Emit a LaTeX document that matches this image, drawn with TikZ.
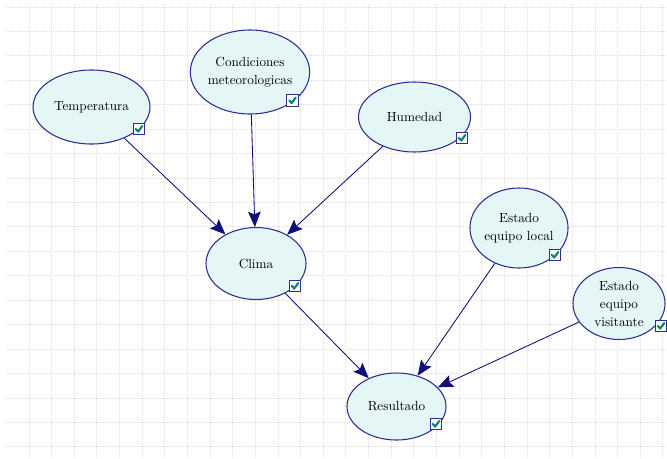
\documentclass[tikz,border=0pt]{standalone}
\usetikzlibrary{shapes.geometric,arrows.meta}
\definecolor{nodeborder}{RGB}{45,45,150}
\definecolor{nodefill}{RGB}{228,246,246}
\definecolor{edgecol}{RGB}{15,15,125}
\definecolor{gridcol}{RGB}{222,222,222}
\definecolor{checkcol}{RGB}{0,128,128}
\tikzset{
  bnnode/.style={ellipse, draw=nodeborder, fill=nodefill, line width=0.8pt, inner sep=0pt,
    align=center, font=\fontsize{9.9}{13.5}\selectfont},
  bnedge/.style={draw=edgecol, line width=0.65pt, -{Stealth[length=11.5pt,width=9.5pt,inset=2pt]}},
  cbox/.style={rectangle, draw=nodeborder, fill=white, line width=0.8pt, minimum size=8.5pt, inner sep=0pt,
    path picture={\draw[checkcol, line width=1.6pt, line cap=round, line join=round]
      ([xshift=-2.3pt,yshift=0pt]path picture bounding box.center) --
      ([xshift=-0.6pt,yshift=-1.9pt]path picture bounding box.center) --
      ([xshift=2.4pt,yshift=2.2pt]path picture bounding box.center);}},
  gridline/.style={draw=gridcol, line width=0.75pt, dash pattern=on 0.75pt off 0.75pt}
}
\begin{document}
\begin{tikzpicture}[x=0.75pt,y=-0.75pt]
\useasboundingbox (0,0) rectangle (667,458);
\fill[white] (0,0) rectangle (667,458);
% grid
\foreach \k in {0,...,18} {
  \draw[gridline] (7,{7+24.44*\k}) -- (667,{7+24.44*\k});
}
\foreach \k in {0,...,28} {
  \draw[gridline] ({29+22.64*\k},5) -- ({29+22.64*\k},458);
}
% nodes
\node[bnnode, minimum width=87.75pt, minimum height=55.5pt] (T) at (91.5,107) {Temperatura};
\node[bnnode, minimum width=81pt, minimum height=63pt] (C) at (250,72) {Condiciones\\meteorologicas};
\node[bnnode, minimum width=84pt, minimum height=52.5pt] (H) at (414.5,117) {Humedad};
\node[bnnode, minimum width=75pt, minimum height=54pt] (Cl) at (256,263.5) {Clima};
\node[bnnode, minimum width=69pt, minimum height=60pt] (L) at (519,228) {Estado\\equipo local};
\node[bnnode, minimum width=69pt, minimum height=54pt] (V) at (619,303.5) {Estado\\equipo\\visitante};
\node[bnnode, minimum width=74.25pt, minimum height=50.25pt] (R) at (396.5,406.5) {Resultado};
% edges
\draw[bnedge] (T) -- (Cl);
\draw[bnedge] (C) -- (Cl);
\draw[bnedge] (H) -- (Cl);
\draw[bnedge] (Cl) -- (R);
\draw[bnedge] (L) -- (R);
\draw[bnedge] (V) -- (R);
% checkboxes
\node[cbox] (cbT) at (139,129) {};
\node[cbox] (cbC) at (292.5,100.5) {};
\node[cbox] (cbH) at (462,138) {};
\node[cbox] (cbCl) at (295,286) {};
\node[cbox] (cbL) at (555,255) {};
\node[cbox] (cbV) at (661,326) {};
\node[cbox] (cbR) at (436,424) {};
\end{tikzpicture}
\end{document}
